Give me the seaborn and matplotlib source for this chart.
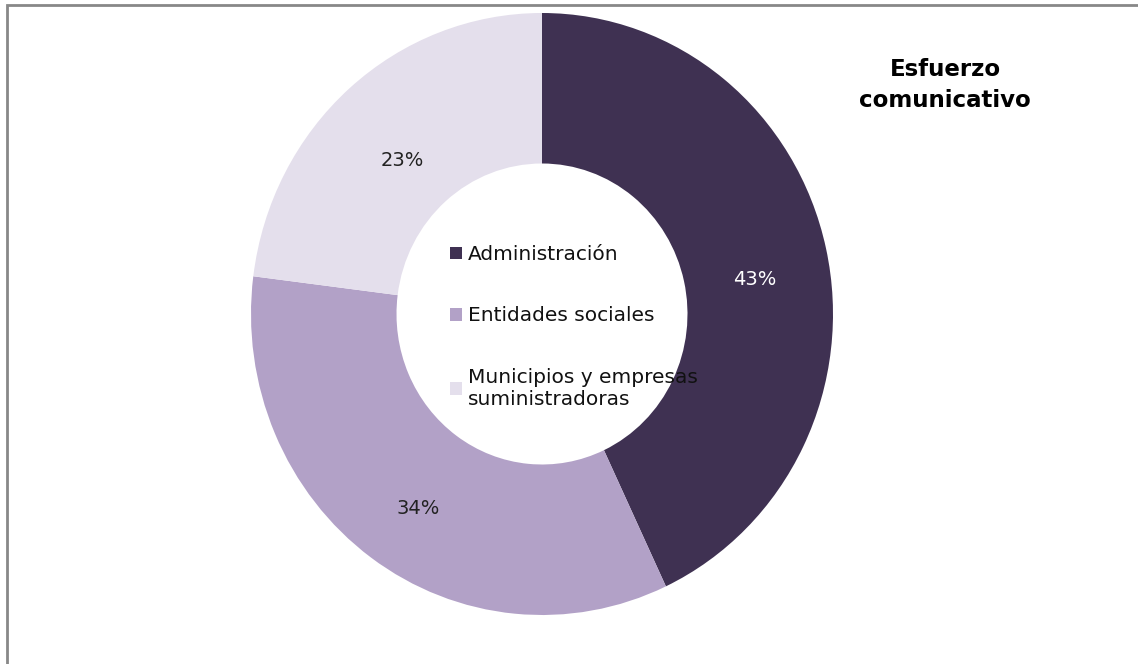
import matplotlib
matplotlib.use("Agg")
import matplotlib.pyplot as plt
import matplotlib.transforms as mtransforms
import seaborn as sns
from matplotlib.patches import Rectangle

categories = ["Administración", "Entidades sociales", "Municipios y empresas\nsuministradoras"]
values = [43, 34, 23]
colors = ["#3F3152", "#B2A1C7", "#E4DFEC"]
title = "Esfuerzo\ncomunicativo"

sns.set_theme(style="white")
plt.rcParams['font.family'] = ['DejaVu Sans']

W, H = 1138, 664
fig = plt.figure(figsize=(W / 100, H / 100), dpi=100)
fig.patch.set_facecolor("white")

ax = fig.add_axes([(542 - 291) / W, (H - 615) / H, 582 / W, 602 / H])
wedges, texts, autotexts = ax.pie(
    values, colors=colors, startangle=90, counterclock=False,
    radius=1.0, wedgeprops=dict(width=0.5, linewidth=0),
    autopct=lambda p: f"{p:.0f}%", pctdistance=0.74,
    textprops=dict(fontsize=14, color="#222222"))
autotexts[0].set_color("white")
for t in autotexts:
    t.set_transform(mtransforms.offset_copy(t.get_transform(), fig=fig,
                                            x=2, y=-10, units="points"))
ax.set_xlim(-1, 1)
ax.set_ylim(-1, 1)
ax.set_aspect("auto")
ax.axis("off")

leg = ax.legend(wedges, categories, loc="upper left",
                bbox_to_anchor=(440 / W, (H - 235) / H),
                bbox_transform=fig.transFigure, frameon=False,
                fontsize=14.5, handlelength=0.6, handleheight=0.6,
                handletextpad=0.3, labelspacing=2.1, borderpad=0)
for t in leg.get_texts():
    t.set_color("#111111")

fig.text(945 / W, 1 - 85 / H, title, ha="center", va="center",
         fontsize=16.5, fontweight="bold", color="black", linespacing=1.45)

fig.patches.append(Rectangle((7 / W, -0.1), 1.2, 1 - 5 / H + 0.1,
                             transform=fig.transFigure, fill=False,
                             edgecolor="#888888", linewidth=2))

fig.savefig("out.png", dpi=100)
